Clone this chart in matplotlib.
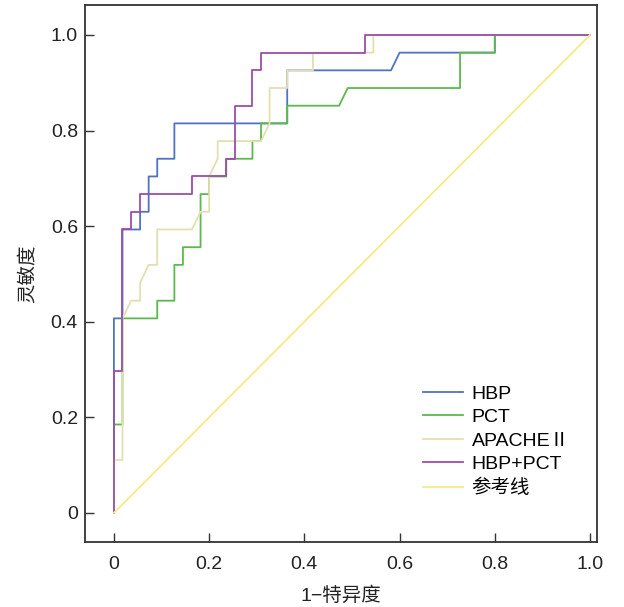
import matplotlib
matplotlib.use('Agg')
import matplotlib.pyplot as plt

plt.rcParams['font.family'] = ['Liberation Sans', 'Noto Sans CJK SC', 'DejaVu Sans']

# ROC curves (1-specificity, sensitivity)
hbp_x = [0, 0, 0.018, 0.018, 0.055, 0.055, 0.073, 0.073, 0.091, 0.091, 0.127, 0.127,
         0.364, 0.364, 0.582, 0.600, 0.800, 0.800, 1.0]
hbp_y = [0, 0.407, 0.407, 0.593, 0.593, 0.630, 0.630, 0.704, 0.704, 0.741, 0.741, 0.815,
         0.815, 0.926, 0.926, 0.963, 0.963, 1.0, 1.0]

pct_x = [0, 0, 0.018, 0.018, 0.091, 0.091, 0.127, 0.127, 0.145, 0.145, 0.182, 0.182,
         0.200, 0.200, 0.236, 0.236, 0.291, 0.291, 0.309, 0.309, 0.364, 0.364,
         0.473, 0.491, 0.727, 0.727, 0.800, 0.800, 1.0]
pct_y = [0, 0.185, 0.185, 0.407, 0.407, 0.444, 0.444, 0.519, 0.519, 0.556, 0.556, 0.667,
         0.667, 0.704, 0.704, 0.741, 0.741, 0.778, 0.778, 0.815, 0.815, 0.852,
         0.852, 0.889, 0.889, 0.963, 0.963, 1.0, 1.0]

apache_x = [0, 0, 0.018, 0.018, 0.036, 0.055, 0.055, 0.073, 0.091, 0.091, 0.164, 0.182,
            0.200, 0.200, 0.218, 0.218, 0.309, 0.327, 0.327, 0.364, 0.364, 0.418,
            0.418, 0.545, 0.545, 1.0]
apache_y = [0, 0.111, 0.111, 0.407, 0.444, 0.444, 0.481, 0.519, 0.519, 0.593, 0.593, 0.630,
            0.630, 0.704, 0.741, 0.778, 0.778, 0.815, 0.889, 0.889, 0.926, 0.926,
            0.963, 0.963, 1.0, 1.0]

combo_x = [0, 0, 0.018, 0.018, 0.036, 0.036, 0.055, 0.055, 0.164, 0.164, 0.236, 0.236,
           0.255, 0.255, 0.291, 0.291, 0.309, 0.309, 0.527, 0.527, 1.0]
combo_y = [0, 0.296, 0.296, 0.593, 0.593, 0.630, 0.630, 0.667, 0.667, 0.704, 0.704, 0.741,
           0.741, 0.852, 0.852, 0.926, 0.926, 0.963, 0.963, 1.0, 1.0]

ref_x = [0, 1]
ref_y = [0, 1]

ticks = [0, 0.2, 0.4, 0.6, 0.8, 1.0]
tick_labels = ['0', '0.2', '0.4', '0.6', '0.8', '1.0']

fig = plt.figure(figsize=(6.24, 6.07), dpi=100)
ax = fig.add_axes([0.136, 0.107, 0.821, 0.885])

lw = 1.3
ax.plot(hbp_x, hbp_y, color='#4f73c3', lw=lw, label='HBP')
ax.plot(pct_x, pct_y, color='#5cb94c', lw=lw, label='PCT')
ax.plot(apache_x, apache_y, color='#e3dfb0', lw=lw, label='APACHEⅡ')
ax.plot(combo_x, combo_y, color='#9d4ea8', lw=lw, label='HBP+PCT')
ax.plot(ref_x, ref_y, color='#f7ea84', lw=lw, label='参考线')

ax.set_xlim(-0.061, 1.015)
ax.set_ylim(-0.061, 1.063)
ax.set_xticks(ticks)
ax.set_xticklabels(tick_labels)
ax.set_yticks(ticks)
ax.set_yticklabels(tick_labels)
ax.tick_params(axis='both', direction='in', length=6.5, width=1.0, colors='#333333',
               labelsize=14, labelcolor='#222222')
ax.tick_params(axis='x', pad=10)
ax.tick_params(axis='y', pad=5)
for s in ax.spines.values():
    s.set_linewidth(1.3)
    s.set_color('#333333')

ax.set_xlabel('1−特异度', fontsize=14, color='#222222', labelpad=10)
ax.set_ylabel('灵敏度', fontsize=14, color='#222222', labelpad=10)

ax.legend(loc='upper left', bbox_to_anchor=(0.66, 0.292), frameon=False,
          fontsize=14, handlelength=2.05, handletextpad=0.45, labelspacing=0.3,
          borderpad=0, borderaxespad=0)

fig.savefig('out.png', dpi=100)
